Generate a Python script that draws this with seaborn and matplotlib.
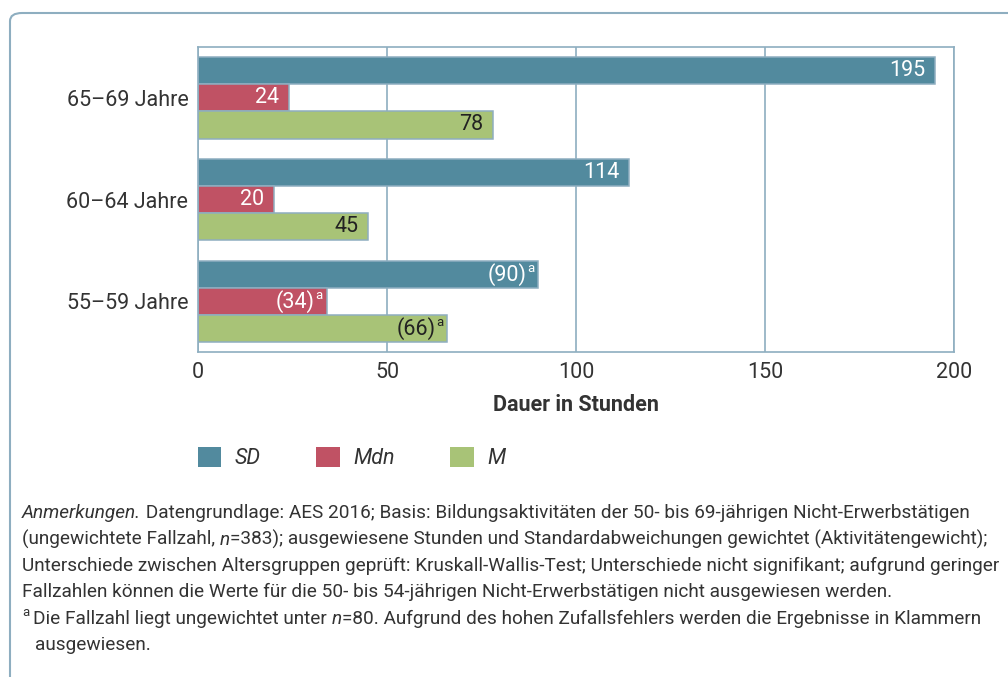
import matplotlib
matplotlib.use("Agg")
import matplotlib.pyplot as plt
from matplotlib.patches import FancyBboxPatch
import seaborn as sns
import pandas as pd

# Daten
altersgruppen = ["65–69 Jahre", "60–64 Jahre", "55–59 Jahre"]
kennwerte = ["SD", "Mdn", "M"]
sd_werte = [195, 114, 90]
mdn_werte = [24, 20, 34]
m_werte = [78, 45, 66]
in_klammern = [False, False, True]   # Fallzahl < 80 -> Klammern + Fußnote a
x_ticks = [0, 50, 100, 150, 200]

farben = {"SD": "#528a9e", "Mdn": "#c05264", "M": "#a8c377"}
text_farben = {"SD": "white", "Mdn": "white", "M": "#222222"}
rahmen = "#8eaec0"
grau = "#333333"

rows = []
for g, s, md, m in zip(altersgruppen, sd_werte, mdn_werte, m_werte):
    rows += [(g, "SD", s), (g, "Mdn", md), (g, "M", m)]
df = pd.DataFrame(rows, columns=["Gruppe", "Kennwert", "Stunden"])

sns.set_theme(style="white")
plt.rcParams["font.family"] = ["Roboto", "DejaVu Sans"]
gross = 15.5

fig = plt.figure(figsize=(10.08, 6.77), dpi=100)
ax = fig.add_axes([198 / 1008, 1 - 352 / 677, 756 / 1008, 305 / 677])

sns.barplot(data=df, y="Gruppe", x="Stunden", hue="Kennwert",
            order=altersgruppen, hue_order=kennwerte, palette=farben,
            orient="h", width=0.8, edgecolor=rahmen, linewidth=1.1,
            saturation=1, ax=ax, legend=True)

ax.set_xlim(0, 200)
ax.set_ylim(2.5, -0.5)
ax.set_xticks(x_ticks)
ax.xaxis.grid(True, color=rahmen, linewidth=1.2)
ax.set_axisbelow(True)
for sp in ax.spines.values():
    sp.set_color(rahmen)
    sp.set_linewidth(1.2)
ax.tick_params(axis="both", length=0, labelsize=gross, colors=grau, pad=7)
ax.set_ylabel("")
ax.set_xlabel("Dauer in Stunden", fontsize=gross, fontweight="bold", color=grau, labelpad=8)

# Wertebeschriftungen in den Balken
for kw, cont in zip(kennwerte, ax.containers):
    for i, bar in enumerate(cont):
        w = bar.get_width()
        yc = bar.get_y() + bar.get_height() / 2
        col = text_farben[kw]
        if in_klammern[i]:
            ax.annotate("a", (w, yc), xytext=(-3, 4), textcoords="offset points",
                        ha="right", va="center", fontsize=9.5, color=col)
            ax.annotate(f"({w:.0f})", (w, yc), xytext=(-8.5, 0), textcoords="offset points",
                        ha="right", va="center", fontsize=gross, color=col)
        else:
            ax.annotate(f"{w:.0f}", (w, yc), xytext=(-7, 0), textcoords="offset points",
                        ha="right", va="center", fontsize=gross, color=col)

# Legende
handles, labels = ax.get_legend_handles_labels()
for h in handles:
    h.set_edgecolor("none")
ax.legend(handles, labels, loc="center left", bbox_to_anchor=(189 / 1008, 1 - 458 / 677),
          bbox_transform=fig.transFigure, ncol=3, frameon=False,
          prop={"style": "italic", "size": gross}, handlelength=1.1, handleheight=1.1,
          handletextpad=0.6, columnspacing=2.6, labelcolor=grau, borderaxespad=0)

# Rahmen
fig.patches.append(FancyBboxPatch((10 / 1008, -0.2), 1.2, 1 - 13 / 677 + 0.2,
                                  boxstyle="round,pad=0,rounding_size=0.012",
                                  transform=fig.transFigure, fill=False,
                                  edgecolor=rahmen, linewidth=1.5))

# Anmerkungen
renderer = fig.canvas.get_renderer()
zeilen = [
    (22, 518, [("Anmerkungen.", "italic"),
               (" Datengrundlage: AES 2016; Basis: Bildungsaktivitäten der 50- bis 69-jährigen Nicht-Erwerbstätigen", "normal")]),
    (22, 545, [("(ungewichtete Fallzahl, ", "normal"), ("n", "italic"),
               ("=383); ausgewiesene Stunden und Standardabweichungen gewichtet (Aktivitätengewicht);", "normal")]),
    (22, 571, [("Unterschiede zwischen Altersgruppen geprüft: Kruskall-Wallis-Test; Unterschiede nicht signifikant; aufgrund geringer", "normal")]),
    (22, 597, [("Fallzahlen können die Werte für die 50- bis 54-jährigen Nicht-Erwerbstätigen nicht ausgewiesen werden.", "normal")]),
    (33, 624, [("Die Fallzahl liegt ungewichtet unter ", "normal"), ("n", "italic"),
               ("=80. Aufgrund des hohen Zufallsfehlers werden die Ergebnisse in Klammern", "normal")]),
    (35, 650, [("ausgewiesen.", "normal")]),
]


def zeile(x, y, teile, fs):
    for txt, stil in teile:
        t = fig.text(x / 1008, 1 - y / 677, txt, fontsize=fs, style=stil,
                     color=grau, va="baseline", ha="left")
        x = t.get_window_extent(renderer).x1
    return x


# Schriftgröße so wählen, dass die erste Zeile bis x=968 reicht
probe = zeile(22, 518, zeilen[0][2], 10)
for t in list(fig.texts):
    t.remove()
fs = 10 * (968 - 22) / (probe - 22)

for x, y, teile in zeilen:
    zeile(x, y, teile, fs)
fig.text(22 / 1008, 1 - 616 / 677, "a", fontsize=fs * 0.7, color=grau, va="baseline")

fig.savefig("out.png", dpi=100, facecolor="white")
